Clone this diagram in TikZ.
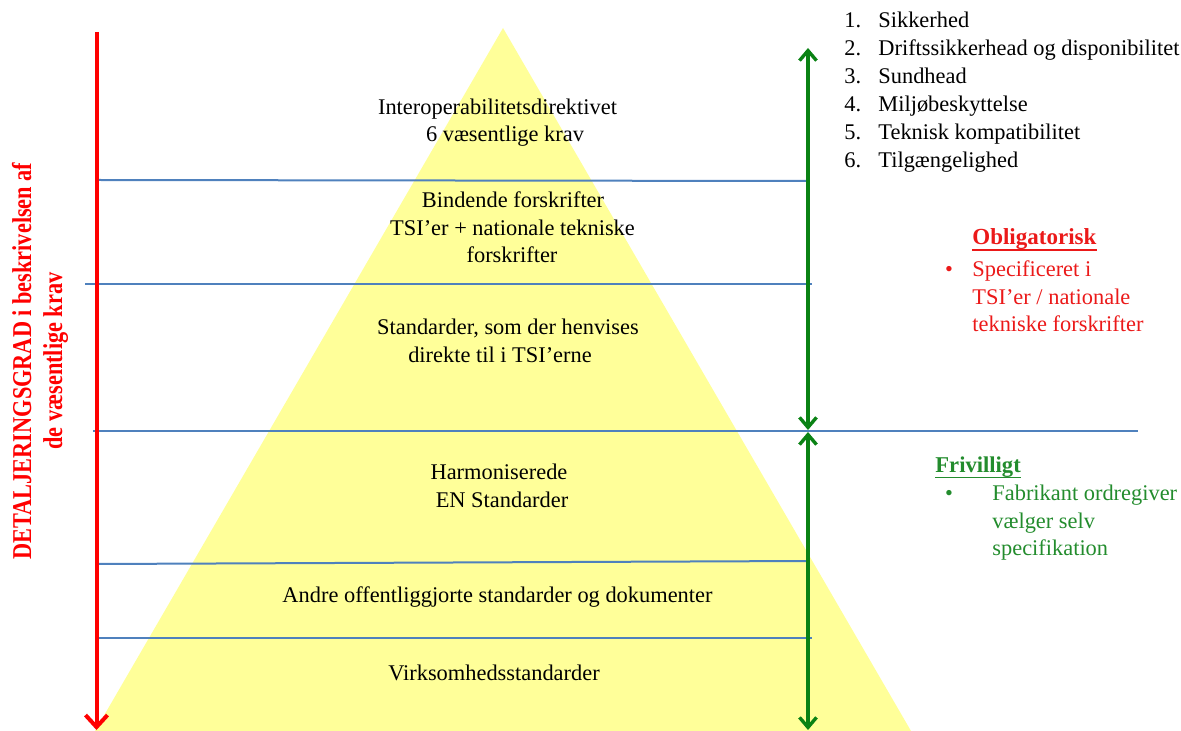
\documentclass[tikz,border=0pt]{standalone}
\usepackage{fontspec}
\setmainfont{Liberation Serif}
\newfontfamily\condfont[FakeStretch=0.82]{Liberation Serif}
\usetikzlibrary{arrows.meta}
\definecolor{pyr}{RGB}{255,255,153}
\definecolor{lineblue}{RGB}{79,129,189}
\definecolor{arrgreen}{RGB}{10,130,20}
\definecolor{txtred}{RGB}{235,25,25}
\definecolor{txtgreen}{RGB}{35,140,45}
\begin{document}
\begin{tikzpicture}[x=0.5pt,y=-0.5pt,
  lbl/.style={font=\fontsize{11.2}{14}\selectfont, inner sep=0pt, anchor=base},
  lst/.style={lbl, anchor=base west},
  sep/.style={draw=lineblue, line width=1pt},
  redarr/.style={draw=red, line width=2pt, -{Straight Barb[length=6pt,width=11pt]}},
  grnarr/.style={draw=arrgreen, line width=1.7pt, {Straight Barb[length=5pt,width=8.5pt]}-{Straight Barb[length=5pt,width=8.5pt]}}]
\useasboundingbox (0,0) rectangle (1181,731);
% pyramid
\fill[pyr] (503,28) -- (95,731) -- (911,731) -- cycle;
% separator lines
\coordinate (s1a) at (98,180);  \coordinate (s1b) at (806,181);
\coordinate (s2a) at (85,284);  \coordinate (s2b) at (812,284);
\coordinate (s3a) at (93,431);  \coordinate (s3b) at (1138,431);
\coordinate (s4a) at (97,564);  \coordinate (s4b) at (808,561);
\coordinate (s5a) at (99,638);  \coordinate (s5b) at (812,638);
\draw[sep] (s1a) -- (s1b);
\draw[sep] (s2a) -- (s2b);
\draw[sep] (s3a) -- (s3b);
\draw[sep] (s4a) -- (s4b);
\draw[sep] (s5a) -- (s5b);
% red arrow
\coordinate (rtop) at (96.5,32); \coordinate (rbot) at (96.5,730);
\draw[redarr] (rtop) -- (rbot);
% green arrows
\coordinate (g1) at (808,48); \coordinate (g2) at (808,430);
\coordinate (g3) at (808,432); \coordinate (g4) at (808,730);
\draw[grnarr] (g1) -- (g2);
\draw[grnarr] (g3) -- (g4);
% vertical red text
\node[rotate=90, align=center, text=red, inner sep=0pt,
  font=\condfont\bfseries\fontsize{13.6}{15.5}\selectfont] (vt) at (40,361)
  {DETALJERINGSGRAD i beskrivelsen af\\de væsentlige krav};
% pyramid texts
\node[lbl] (t1a) at (497.5,115) {Interoperabilitetsdirektivet};
\node[lbl] (t1b) at (505,142) {6 væsentlige krav};
\node[lbl] (t2a) at (513,208) {Bindende forskrifter};
\node[lbl] (t2b) at (512.5,236) {TSI’er + nationale tekniske};
\node[lbl] (t2c) at (512,263) {forskrifter};
\node[lbl] (t3a) at (508,335) {Standarder, som der henvises};
\node[lbl] (t3b) at (500,363) {direkte til i TSI’erne};
\node[lbl] (t4a) at (499,479) {Harmoniserede};
\node[lbl] (t4b) at (502,507) {EN Standarder};
\node[lbl] (t5) at (497.5,602) {Andre offentliggjorte standarder og dokumenter};
\node[lbl] (t6) at (494,680) {Virksomhedsstandarder};
% numbered list
\foreach \n/\t [count=\i] in {1/Sikkerhed,2/Driftssikkerhead og disponibilitet,3/Sundhead,4/Miljøbeskyttelse,5/Teknisk kompatibilitet,6/Tilgængelighed}{
  \node[lst] (ln\i) at (844,{28+28*(\i-1)}) {\n.};
  \node[lst] (lt\i) at (878,{28+28*(\i-1)}) {\t};
}
% Obligatorisk
\node[lst, text=txtred, font=\fontsize{11.5}{14}\selectfont\bfseries] (ob) at (972,245) {Obligatorisk};
\draw[txtred, line width=0.7pt] ([yshift=-2.6pt]ob.base west) -- ([yshift=-2.6pt]ob.base east);
\node[lbl, text=txtred] (obb) at (949,277) {•};
\node[lst, text=txtred] (ob1) at (972,277) {Specificeret i};
\node[lst, text=txtred] (ob2) at (972,305) {TSI’er / nationale};
\node[lst, text=txtred] (ob3) at (972,332) {tekniske forskrifter};
% Frivilligt
\node[lst, text=txtgreen, font=\fontsize{11.3}{14}\selectfont\bfseries] (fr) at (935,472) {Frivilligt};
\draw[txtgreen, line width=0.7pt] ([yshift=-2.6pt]fr.base west) -- ([yshift=-2.6pt]fr.base east);
\node[lbl, text=txtgreen] (frb) at (949,500) {•};
\node[lst, text=txtgreen] (fr1) at (992,500) {Fabrikant ordregiver};
\node[lst, text=txtgreen] (fr2) at (992,528) {vælger selv};
\node[lst, text=txtgreen] (fr3) at (992,555) {specifikation};
\end{tikzpicture}
\end{document}
